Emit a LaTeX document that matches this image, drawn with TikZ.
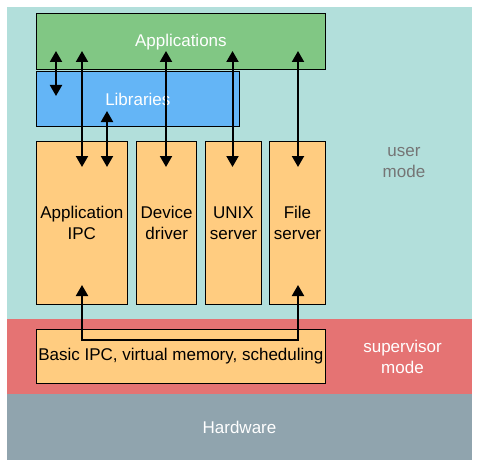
\documentclass[tikz,border=0pt]{standalone}
\usepackage{fontspec}
\setmainfont{Liberation Sans}
\usetikzlibrary{arrows.meta}
\definecolor{cteal}{HTML}{B2DFDB}
\definecolor{cred}{HTML}{E57373}
\definecolor{cgray}{HTML}{90A4AE}
\definecolor{cgreen}{HTML}{81C784}
\definecolor{cblue}{HTML}{64B5F6}
\definecolor{corange}{HTML}{FFCC80}
\definecolor{cmode}{HTML}{757575}
\begin{document}
\begin{tikzpicture}[x=1pt,y=-1pt,
  region/.style={draw=none, anchor=north west, inner sep=0pt, outer sep=0pt},
  box/.style={draw=black, line width=1pt, anchor=north west, inner sep=0pt, outer sep=0pt, align=center, font=\fontsize{17}{21}\selectfont},
  conn/.style={line width=2pt, {Triangle[width=12pt,length=11pt]}-{Triangle[width=12pt,length=11pt]}},
  lbl/.style={font=\fontsize{17}{21}\selectfont, align=center, inner sep=0pt}]
\useasboundingbox (0,0) rectangle (478,468);
% regions
\node[region, fill=cteal, minimum width=465pt, minimum height=312pt] (user) at (7,7) {};
\node[region, fill=cred, minimum width=465pt, minimum height=75pt] (sup) at (7,319) {};
\node[region, fill=cgray, minimum width=465pt, minimum height=66pt, text=white, font=\fontsize{17}{21}\selectfont] (hw) at (7,394) {Hardware};
\node[lbl, text=cmode] (usertxt) at (404,162.5) {user\\mode};
\node[lbl, text=white] (suptxt) at (402.5,357) {supervisor\\mode};
% boxes
\node[box, fill=cgreen, text=white, minimum width=289.7pt, minimum height=55.7pt] (apps) at (36,14) {Applications};
\node[box, fill=cblue, text=white, minimum width=203.7pt, minimum height=54.3pt] (libs) at (36,72) {Libraries};
\node[box, fill=corange, minimum width=91.7pt, minimum height=162.6pt] (aipc) at (36,141.7) {Application\\IPC};
\node[box, fill=corange, minimum width=60pt, minimum height=162.6pt] (dev) at (136.7,141.7) {Device\\driver};
\node[box, fill=corange, minimum width=56.4pt, minimum height=162.6pt] (unix) at (205.3,141.7) {UNIX\\server};
\node[box, fill=corange, minimum width=56.4pt, minimum height=162.6pt] (fs) at (269.3,141.7) {File\\server};
\node[box, fill=corange, minimum width=289.7pt, minimum height=54pt] (kern) at (36,329.3) {Basic IPC, virtual memory, scheduling};
% connector ends
\coordinate (appsA) at (56,51);
\coordinate (libsA) at (56,96);
\coordinate (appsB) at (82,51);
\coordinate (aipcB) at (82,167);
\coordinate (libsC) at (107,111);
\coordinate (aipcC) at (107,167);
\coordinate (appsD) at (166,51);
\coordinate (devD) at (166,167);
\coordinate (appsE) at (232.5,51);
\coordinate (unixE) at (232.5,167);
\coordinate (appsF) at (298,51);
\coordinate (fsF) at (298,167);
\coordinate (aipcK) at (82,285);
\coordinate (fsK) at (298,285);
\coordinate (kernL) at (82,340.3);
\coordinate (kernR) at (298,340.3);
% connectors
\draw[conn] (appsA) -- (libsA);
\draw[conn] (appsB) -- (aipcB);
\draw[conn] (libsC) -- (aipcC);
\draw[conn] (appsD) -- (devD);
\draw[conn] (appsE) -- (unixE);
\draw[conn] (appsF) -- (fsF);
\draw[conn] (aipcK) -- (kernL) -- (kernR) -- (fsK);
\end{tikzpicture}
\end{document}
